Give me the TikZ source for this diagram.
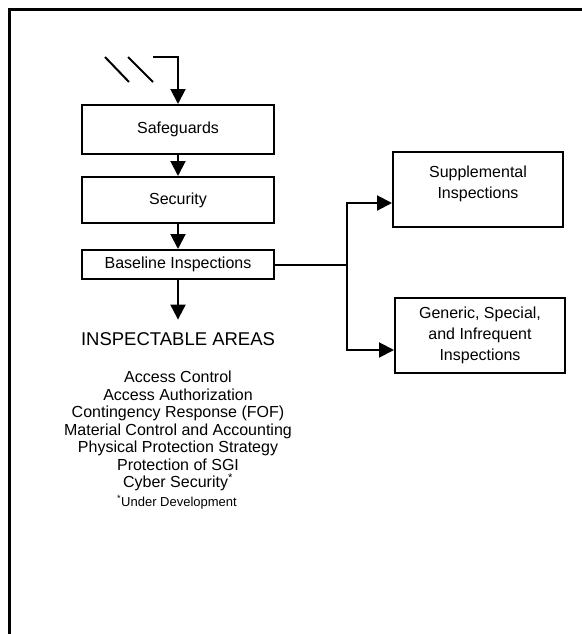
\documentclass[tikz,border=0pt]{standalone}
\usepackage{fontspec}
\setmainfont{Liberation Sans}
\usetikzlibrary{arrows.meta}

\begin{document}
\begin{tikzpicture}[x=1pt,y=-1pt,line width=2pt,
  box/.style={draw,minimum width=192pt,inner sep=0pt,font=\fontsize{16}{20}\selectfont},
  sidebox/.style={draw,minimum width=170pt,minimum height=75pt,inner sep=0pt,align=center,font=\fontsize{16}{21}\selectfont},
  arr/.style={-{Triangle[width=15pt,length=15pt]}}]
\useasboundingbox (0,0) rectangle (581,634);
\draw[line width=3pt] (9,650) |- (600,10);

\node[box,minimum height=49pt] (safe) at (178,129.5) {Safeguards};
\node[box,minimum height=46pt] (secu) at (178,200) {Security};
\node[box,minimum height=29pt] (base) at (178,264.5) {Baseline Inspections};
\node[sidebox,text depth=14pt] (supp) at (478,189.5) {Supplemental\\Inspections};
\node[sidebox] (gen) at (480,335.5) {Generic, Special,\\and Infrequent\\Inspections};

\node[inner sep=0pt,anchor=base,font=\fontsize{18.5}{22}\selectfont] (areas) at (178,345.5) {INSPECTABLE AREAS};
\node[inner sep=0pt,anchor=north,align=center,font=\fontsize{16}{17.5}\selectfont] (list) at (178,370) {Access Control\\Access Authorization\\Contingency Response (FOF)\\Material Control and Accounting\\Physical Protection Strategy\\Protection of SGI\\Cyber Security\textsuperscript{*}};
\node[inner sep=0pt,anchor=base,font=\fontsize{13}{15}\selectfont] (note) at (177,506) {\textsuperscript{*}Under Development};

% input from above
\draw (105,57) -- (129,82);
\draw (128,57) -- (153,82);
\coordinate (in) at (153,57);
\draw[arr] (in) -| (safe.north);

\draw[arr] (safe) -- (secu);
\draw[arr] (secu) -- (base);
\draw[arr,shorten >=12pt] (base) -- (areas.north);

% branch to the right
\coordinate (fork) at (347,264.5);
\draw (base) -- (fork);
\draw[arr] (fork) |- ([yshift=-13.5pt]supp.west);
\draw[arr] (fork) |- ([yshift=-14.5pt]gen.west);
\end{tikzpicture}
\end{document}
